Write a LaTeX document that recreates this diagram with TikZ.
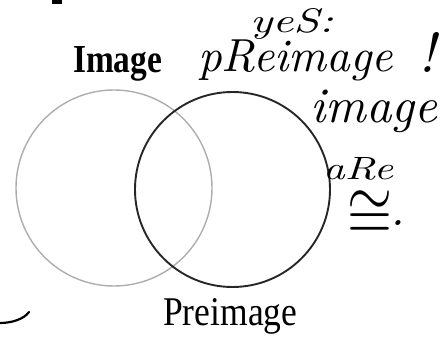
\documentclass[tikz,border=0pt]{standalone}
\usepackage{fontspec}
\usepackage{graphicx}
\newfontfamily\printfont{Liberation Serif}
\begin{document}
\begin{tikzpicture}[x=1pt,y=-1pt,
  printed/.style={inner sep=0pt, text=black},
  hand/.style={inner sep=0pt, text=black, font=\itshape},
  imgcirc/.style={circle, inner sep=0pt, draw=black!32, line width=1.4pt, minimum size=196pt},
  precirc/.style={circle, inner sep=0pt, draw=black!85, line width=1.9pt, minimum size=195pt},
  inkstroke/.style={draw=black, line width=2.2pt, line cap=round}
]
\useasboundingbox (0,0) rectangle (448,337);
% circles
\node[imgcirc] (imgC) at (114,188) {};
\node[precirc] (preC) at (232.5,189.5) {};
% printed labels
\node[printed, anchor=base west] (imageL) at (73,73) {\resizebox{89pt}{26pt}{\printfont\bfseries Image}};
\node[printed, anchor=base west] (preimageL) at (163,325) {\resizebox{134pt}{27pt}{\printfont Preimage}};
% handwritten notes
\node[hand, anchor=base west] (yes) at (250,33) {\resizebox{83pt}{24pt}{\itshape yeS:}};
\node[hand, anchor=base west] (preimH) at (198,72) {\resizebox{195pt}{!}{\itshape pReimage}};
\node[hand, anchor=base west] (excl) at (418,73) {\resizebox{!}{40pt}{\itshape !}};
\node[hand, anchor=base west] (imageH) at (310,123) {\resizebox{127pt}{!}{\itshape image}};
\node[hand, anchor=base west] (areH) at (323,180) {\resizebox{70pt}{22pt}{\itshape aRe}};
\node[hand] (congH) at (370,215) {\resizebox*{45pt}{48pt}{$\cong$}};
\node[hand] (dotH) at (398,223) {\resizebox{!}{5pt}{.}};
% stray ink marks
\coordinate (c1) at (0,323);
\coordinate (c2) at (29,312);
\draw[inkstroke] (c1) .. controls (12,323) and (24,319) .. (c2);
\fill[black] (52,0) rectangle (62,4);
\end{tikzpicture}
\end{document}
